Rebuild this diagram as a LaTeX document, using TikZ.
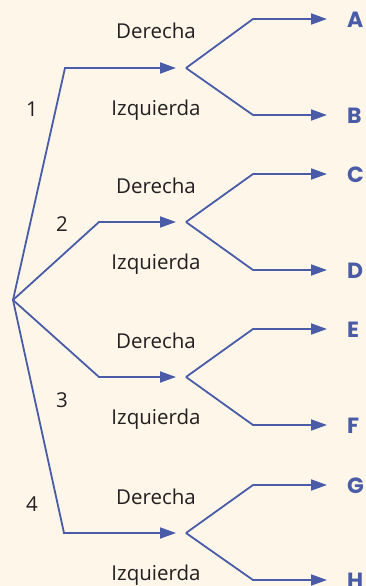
\documentclass[tikz,border=0pt]{standalone}
\usepackage{fontspec}
\setmainfont{Open Sans}
\newfontfamily\letterfont{Poppins}
\usetikzlibrary{arrows.meta}
\definecolor{bgc}{HTML}{FDF6E9}
\definecolor{lnc}{HTML}{4A5BA8}
\definecolor{txc}{HTML}{231F20}
\begin{document}
\begin{tikzpicture}[x=1pt,y=-1pt,
  branch/.style={draw=lnc,line width=1.8pt,line join=miter,-{Triangle[length=16pt,width=11pt]}},
  lbl/.style={anchor=base,inner sep=0pt,text=txc,font=\fontsize{20.5}{24}\selectfont},
  num/.style={anchor=base,inner sep=0pt,text=txc,font=\fontsize{20.5}{24}\selectfont},
  leaf/.style={anchor=west,inner sep=0pt,text=lnc,font=\letterfont\bfseries\fontsize{22}{26}\selectfont}]
\fill[bgc] (0,0) rectangle (366,586);
\useasboundingbox (0,0) rectangle (366,586);
\coordinate (root) at (13,300);
% level 1
\coordinate (c1) at (65,68);
\coordinate (c2) at (99,222);
\coordinate (c3) at (99,377);
\coordinate (c4) at (64,533);
\coordinate (t1) at (176,68);
\coordinate (t2) at (176,222);
\coordinate (t3) at (176,377);
\coordinate (t4) at (176,533);
\coordinate (f1) at (186,68);
\coordinate (f2) at (186,222);
\coordinate (f3) at (186,377);
\coordinate (f4) at (186,533);
\draw[branch] (root) -- (c1) -- (t1);
\draw[branch] (root) -- (c2) -- (t2);
\draw[branch] (root) -- (c3) -- (t3);
\draw[branch] (root) -- (c4) -- (t4);
% numbers
\node[num] (n1) at (32,116) {1};
\node[num] (n2) at (62,231) {2};
\node[num] (n3) at (62,407) {3};
\node[num] (n4) at (32,511) {4};
% labels
\node[lbl] (d1) at (156,39) {Derecha};
\node[lbl] (i1) at (156,115) {Izquierda};
\node[lbl] (d2) at (156,193) {Derecha};
\node[lbl] (i2) at (156,269) {Izquierda};
\node[lbl] (d3) at (156,348) {Derecha};
\node[lbl] (i3) at (156,424) {Izquierda};
\node[lbl] (d4) at (156,504) {Derecha};
\node[lbl] (i4) at (156,580) {Izquierda};
% level 2
\foreach \f/\y/\u/\l/\a/\b in {f1/68/19/115/A/B, f2/222/174/270/C/D, f3/377/329/425/E/F, f4/533/485/580/G/H}{
  \coordinate (u\a) at (253,\u);
  \coordinate (tip\a) at (327,\u);
  \coordinate (u\b) at (253,\l);
  \coordinate (tip\b) at (327,\l);
  \node[leaf] (\a) at (347,\u+1) {\a};
  \node[leaf] (\b) at (347,\l+1) {\b};
  \draw[branch] (\f) -- (u\a) -- (tip\a);
  \draw[branch] (\f) -- (u\b) -- (tip\b);
}
\end{tikzpicture}
\end{document}
